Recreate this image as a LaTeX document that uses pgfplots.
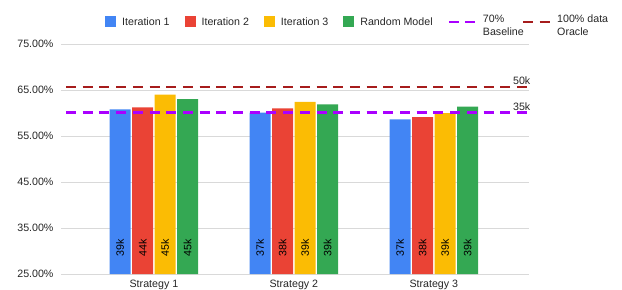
\documentclass[border=0pt]{standalone}
\usepackage{pgfplots}
\pgfplotsset{compat=1.18}
\usepackage{fontspec}
\setmainfont{Liberation Sans}
\definecolor{gblue}{HTML}{4285F4}
\definecolor{gred}{HTML}{EA4335}
\definecolor{gyellow}{HTML}{FBBC04}
\definecolor{ggreen}{HTML}{34A853}
\definecolor{basepurple}{HTML}{AA00FF}
\definecolor{oracle}{HTML}{A61C1C}
\definecolor{gridgray}{HTML}{D9D9D9}
\newcommand{\lf}{\fontsize{10.7}{13}\selectfont}
\begin{document}
\begin{tikzpicture}
\useasboundingbox (0,0) rectangle (622bp,290bp);
\begin{axis}[
  at={(61bp,16bp)}, anchor=south west,
  scale only axis, width=468bp, height=230bp,
  xmin=0.336, xmax=3.68, ymin=25, ymax=75,
  ybar=1.5bp, bar width=21bp,
  xtick={1,2,3}, xticklabels={Strategy 1,Strategy 2,Strategy 3},
  ytick={25,35,45,55,65,75},
  yticklabel={\pgfmathprintnumber[fixed,fixed zerofill,precision=2]{\tick}\%},
  /pgf/number format/assume math mode=true,
  ymajorgrids, grid style={gridgray, line width=0.8bp},
  axis line style={draw=none},
  major tick length=0pt,
  tick label style={font=\lf, text=black!85},
  xticklabel style={yshift=-3bp},
  yticklabel style={xshift=-4bp},
  clip=false,
  legend columns=-1,
  legend cell align=left,
  legend style={at={(0.094,1.0957)}, anchor=west, draw=none, fill=none,
    inner sep=0pt, font=\lf, text=black!85,
    /tikz/every odd column/.append style={column sep=4bp},
    /tikz/every even column/.append style={column sep=13bp}},
  nodes near coords style={rotate=90, anchor=west, font=\lf, text=black},
]
% bars
\addplot[fill=gblue, draw=none, bar shift=-33.75bp,
  legend image code/.code={\fill[gblue] (0bp,-5.5bp) rectangle (11bp,5.5bp);}]
  coordinates {(1,60.8) (2,60.1) (3,58.6)};
\addlegendentry{Iteration 1}
\addplot[fill=gred, draw=none, bar shift=-11.25bp,
  legend image code/.code={\fill[gred] (0bp,-5.5bp) rectangle (11bp,5.5bp);}]
  coordinates {(1,61.2) (2,61.0) (3,59.1)};
\addlegendentry{Iteration 2}
\addplot[fill=gyellow, draw=none, bar shift=11.25bp,
  legend image code/.code={\fill[gyellow] (0bp,-5.5bp) rectangle (11bp,5.5bp);}]
  coordinates {(1,64.0) (2,62.4) (3,60.0)};
\addlegendentry{Iteration 3}
\addplot[fill=ggreen, draw=none, bar shift=33.75bp,
  legend image code/.code={\fill[ggreen] (0bp,-5.5bp) rectangle (11bp,5.5bp);}]
  coordinates {(1,63.0) (2,61.9) (3,61.4)};
\addlegendentry{Random Model}
% reference lines
\addplot[sharp plot, basepurple, line width=2.3bp, dash pattern=on 10bp off 6.7bp,
  legend image code/.code={\draw[basepurple, line width=2.3bp, dash pattern=on 10bp off 6.5bp] (0bp,0bp) -- (27bp,0bp);}]
  coordinates {(0.372,60.1) (3.70,60.1)};
\addlegendentry{\makebox[24bp][l]{\begin{tabular}{@{}l@{}}70\%\\Baseline\end{tabular}}}
\addplot[sharp plot, oracle, line width=2.3bp, dash pattern=on 10bp off 6.7bp,
  legend image code/.code={\draw[oracle, line width=2.3bp, dash pattern=on 10bp off 6.5bp] (0bp,0bp) -- (27bp,0bp);}]
  coordinates {(0.372,65.6) (3.70,65.6)};
\addlegendentry{\begin{tabular}{@{}l@{}}100\% data\\Oracle\end{tabular}}
% in-bar labels
\addplot[draw=none, fill=none, forget plot, bar shift=-33.75bp, nodes near coords, point meta=explicit symbolic]
  coordinates {(1,28) [39k] (2,28) [37k] (3,28) [37k]};
\addplot[draw=none, fill=none, forget plot, bar shift=-11.25bp, nodes near coords, point meta=explicit symbolic]
  coordinates {(1,28) [44k] (2,28) [38k] (3,28) [38k]};
\addplot[draw=none, fill=none, forget plot, bar shift=11.25bp, nodes near coords, point meta=explicit symbolic]
  coordinates {(1,28) [45k] (2,28) [39k] (3,28) [39k]};
\addplot[draw=none, fill=none, forget plot, bar shift=33.75bp, nodes near coords, point meta=explicit symbolic]
  coordinates {(1,28) [45k] (2,28) [39k] (3,28) [39k]};
\node[anchor=south east, font=\lf, text=black!85, inner sep=2bp] at (axis cs:3.705,65.6) {50k};
\node[anchor=south east, font=\lf, text=black!85, inner sep=2bp] at (axis cs:3.705,60.1) {35k};
\end{axis}
\end{tikzpicture}
\end{document}
